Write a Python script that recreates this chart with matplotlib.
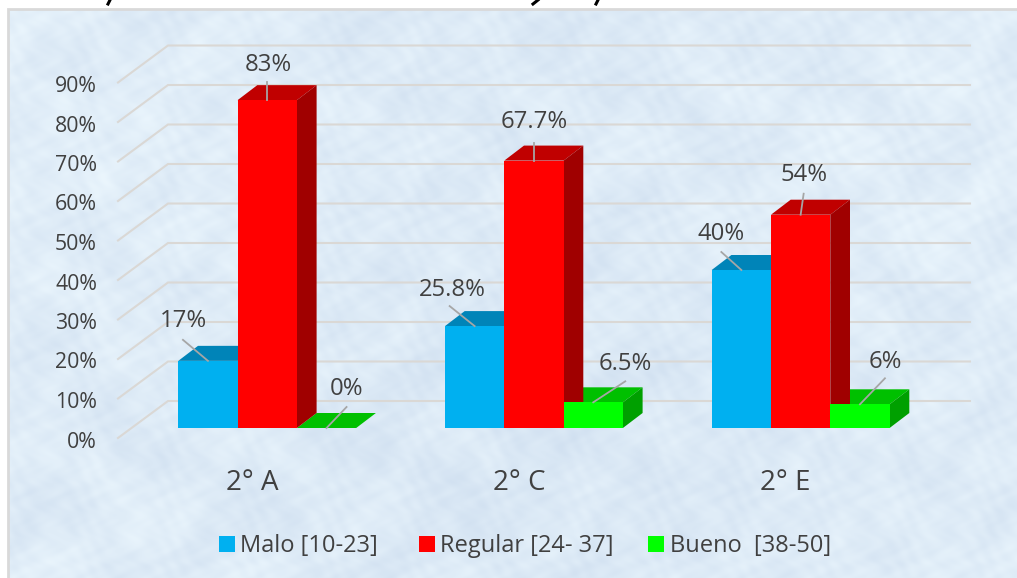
import numpy as np
import matplotlib
matplotlib.use("Agg")
import matplotlib.pyplot as plt
from matplotlib.patches import Polygon, Rectangle

categories = ["2° A", "2° C", "2° E"]
series = ["Malo [10-23]", "Regular [24- 37]", "Bueno  [38-50]"]
malo = [17, 25.8, 40]
regular = [83, 67.7, 54]
bueno = [0, 6.5, 6]
labels = [["17%", "25.8%", "40%"], ["83%", "67.7%", "54%"], ["0%", "6.5%", "6%"]]
ticks = list(range(0, 100, 10))

front = ["#00B0F0", "#FF0000", "#00FF00"]
top = ["#0084B8", "#C00000", "#00C000"]
side = ["#006F9C", "#A00000", "#00A000"]

W, H = 1017, 578
PX = 3.95
fig = plt.figure(figsize=(W / 100, H / 100), dpi=100, facecolor="white")
ax = fig.add_axes([0, 0, 1, 1])
YMIN, YMAX = -150 / PX, 428 / PX
FONT = "Open Sans"
TXT = "#404040"

# pale mottled panel (deterministic texture)
yy, xx = np.mgrid[0:569, 0:1009]
tex = (np.sin(xx / 37 + np.sin(yy / 29) * 2.5) * .6
       + np.sin(yy / 23 + np.sin(xx / 31) * 2.5) * .6
       + np.sin((xx + 1.3 * yy) / 7 + np.sin(yy / 11) * 2) * .5
       + np.sin((1.4 * xx - yy) / 5.3 + np.sin(xx / 13) * 2) * .45
       + np.sin(xx / 3.1 + np.sin(yy / 4.3) * 3) * .25
       + np.sin(xx / 140 + 1) * .5 + np.sin(yy / 90) * .4)
tex = tex / np.abs(tex).max()
base = np.array([0.870, 0.922, 0.968])
amp = np.array([0.050, 0.042, 0.024])
img = np.clip(base + tex[..., None] * amp, 0, 1)
ax.imshow(img, extent=(8, W, YMIN, (428 - 9) / PX), aspect="auto", zorder=0,
          interpolation="bilinear")
ax.set_xlim(0, W)
ax.set_ylim(YMIN, YMAX)
ax.axis("off")
ax.add_patch(Rectangle((8, YMIN - 10), W, (578 - 9) / PX + 10, fill=False, ec="#D9D9D9", lw=2, zorder=1))

# feet of the heading that is cut off by the top of the picture
for x0, x1, y0, y1 in [(110, 108, 0, 4), (538, 533, 0, 4), (598, 596, 0, 4)]:
    ax.plot([x0, x1], [YMAX - y0 / PX, YMAX - y1 / PX], color="black", lw=2.2, zorder=1)

# gridlines on the walls: depth runs from the left label plane to the back wall
GX0, GX1, GXR = 118, 168, 970
FRONT_UP, BACK_UP = -10 / PX, 27 / PX
for t in ticks:
    ax.plot([GX0, GX1, GXR], [t + FRONT_UP, t + BACK_UP, t + BACK_UP], color="#DAD8D5", lw=1.5,
            zorder=2, solid_joinstyle="miter")
    ax.text(97, t + FRONT_UP - 4 / PX, f"{t}%", fontsize=15.3, color=TXT, ha="right",
            va="center", family=FONT, zorder=6)

# bars
X0, STEP, BW = 178.3, 266.7, 59.3
DX, DY = 19.7, 15 / PX
for s, vals in enumerate([malo, regular, bueno]):
    for i, v in enumerate(vals):
        x = X0 + i * STEP + s * BW
        ax.bar(x, v, width=BW, align="edge", color=front[s], lw=0, zorder=4)
        ax.add_patch(Polygon([(x, v), (x + DX, v + DY), (x + BW + DX, v + DY), (x + BW, v)],
                             closed=True, fc=top[s], ec="none", zorder=3.5))
        ax.add_patch(Polygon([(x + BW, 0), (x + BW + DX, DY), (x + BW + DX, v + DY), (x + BW, v)],
                             closed=True, fc=side[s], ec="none", zorder=3.6 + s * 0.1))

# data labels with leader lines (offsets in px from the bar's top-centre)
offs = [[(-24, -40), (-22, -36), (-20, -36)],
        [(1, -35), (0, -39), (3, -40)],
        [(20, -39), (32, -38), (25, -42)]]
leader = [[(-25, -21), (-25, -20), (-20, -18)],
          [(0, -18), (0, -18), (3, -21)],
          [(20, -21), (32, -21), (25, -26)]]
for s, vals in enumerate([malo, regular, bueno]):
    for i, v in enumerate(vals):
        cx = X0 + i * STEP + s * BW + BW / 2
        lx, ly = leader[s][i]
        ax.plot([cx, cx + lx], [v, v - ly / PX], color="#A6A6A6", lw=1.3, zorder=5)
        ox, oy = offs[s][i]
        ax.text(cx + ox, v - oy / PX, labels[s][i], fontsize=17.2, color=TXT, ha="center",
                va="center", family=FONT, zorder=7)

# category labels
for i, c in enumerate(categories):
    ax.text(X0 + i * STEP + 1.5 * BW - 15, -55 / PX, c, fontsize=20, color=TXT, ha="center",
            va="center", family=FONT, zorder=6)

# legend
lx = [219, 419, 648]
for s, name in enumerate(series):
    ax.add_patch(Rectangle((lx[s], -124 / PX), 16, 16 / PX, fc=front[s], ec="none", zorder=6))
    ax.text(lx[s] + 21.5, -118.5 / PX, name, fontsize=17, color=TXT, va="center", ha="left",
            family=FONT, zorder=6)

fig.savefig("out.png", dpi=100)
